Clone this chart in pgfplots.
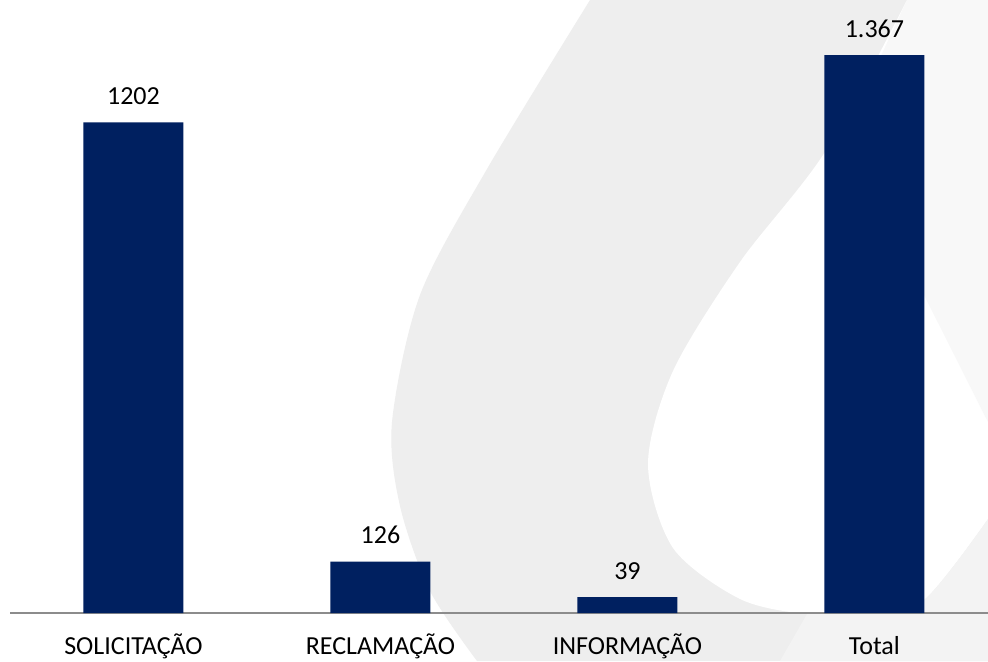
\documentclass[border=0pt]{standalone}
\usepackage{fontspec}
\setmainfont{Carlito}
\usepackage{pgfplots}
\pgfplotsset{compat=1.18}
\definecolor{navy}{HTML}{002060}
\definecolor{wmgray}{HTML}{EEEEEE}
\definecolor{wmlight}{HTML}{F8F8F8}
\definecolor{wmlow}{HTML}{F3F3F3}
\definecolor{axgray}{HTML}{8C8C8C}
\begin{document}
\begin{tikzpicture}[x=1pt,y=1pt]
\useasboundingbox (0,0) rectangle (494,330.5);
% background watermark (decoration)
\fill[white] (0,0) rectangle (494,330.5);
\fill[wmgray] plot[smooth] coordinates {(295,330.5) (243.5,246) (210,183) (196,119.5) (200,77.5) (215,35) (238.5,0)} -- (494,0) -- (494,330.5) -- cycle;
\fill[white] plot[smooth] coordinates {(453.5,330.5) (412.5,254.5) (370,199.5) (336.5,145) (324,98.5) (336.5,56.5) (370,31) (403.5,23.5) (435,24.5) (462,30.5) (494,71)} -- (494,330.5) -- cycle;
\fill[wmlight] (453.5,330.5) -- (430,280) -- (462,183) -- (494,119.5) -- (494,330.5) -- cycle;
\fill[wmlow] plot[smooth] coordinates {(403.5,23.5) (435,24.5) (462,30.5) (494,71)} -- (494,0) -- (390,0) -- cycle;
\begin{axis}[
  at={(5pt,24pt)}, anchor=south west,
  scale only axis, width=489pt, height=306.5pt,
  xmin=-0.5, xmax=3.46, ymin=0, ymax=1502,
  axis x line=bottom, hide y axis,
  x axis line style={-, draw=axgray, line width=0.6pt},
  xtick={0,1,2,3},
  xticklabels={SOLICITAÇÃO, RECLAMAÇÃO, INFORMAÇÃO, Total},
  major tick length=0pt,
  xticklabel style={font=\fontsize{13}{15}\selectfont, anchor=base, yshift=-20.8pt},
  clip=false,
]
\addplot[ybar, fill=navy, draw=none, bar width=50pt,
  nodes near coords, point meta=explicit symbolic,
  every node near coord/.append style={font=\fontsize{13}{15}\selectfont, anchor=base, inner sep=0pt, yshift=9pt, text=black}]
  table[x=x, y=y, meta=lab] {
x y lab
0 1202 1202
1 126 126
2 39 39
3 1367 1.367
};
\end{axis}
\end{tikzpicture}
\end{document}
